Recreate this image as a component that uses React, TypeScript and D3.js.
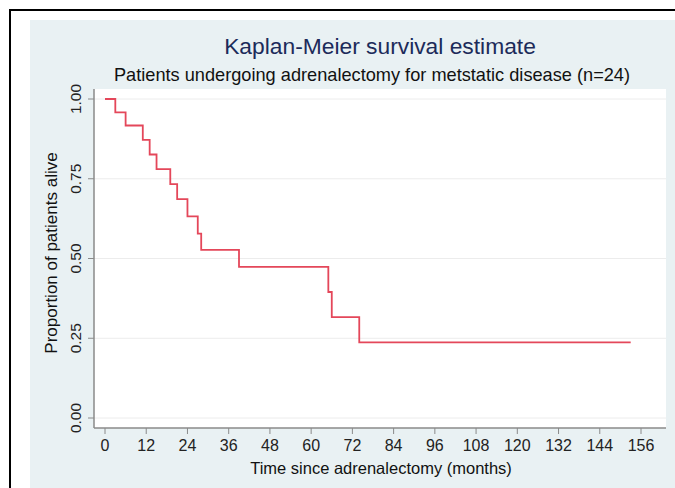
import React, { useEffect } from "react";
import { scaleLinear, line, curveStepAfter } from "d3";

// survival estimate: time (months) and proportion alive
const times = [0, 3, 6, 11, 13, 15, 19, 21, 24, 27, 28, 39, 65, 66, 74, 153];
const survival = [1.0, 0.958, 0.917, 0.872, 0.826, 0.78, 0.733, 0.686, 0.632, 0.578, 0.527, 0.474, 0.395, 0.316, 0.237, 0.237];

const xTicks = [0, 12, 24, 36, 48, 60, 72, 84, 96, 108, 120, 132, 144, 156];
const yTicks = [0, 0.25, 0.5, 0.75, 1];

const title = "Kaplan-Meier survival estimate";
const subtitle = "Patients undergoing adrenalectomy for metstatic disease (n=24)";
const xTitle = "Time since adrenalectomy (months)";
const yTitle = "Proportion of patients alive";

const App = () => {
  const width = 675;
  const height = 488;
  const font = "'Liberation Sans', Arial, Helvetica, sans-serif";

  useEffect(() => {
    document.body.style.margin = "0";
    document.body.style.overflow = "hidden";
  }, []);

  const plot = { left: 94, right: 666, top: 89, bottom: 428 };

  const x = scaleLinear().domain([0, 156]).range([105, 641]);
  const y = scaleLinear().domain([0, 1]).range([418, 99]);

  const pts = times.map((t, i) => [t, survival[i]] as [number, number]);
  const path = line<[number, number]>()
    .x((d) => x(d[0]))
    .y((d) => y(d[1]))
    .curve(curveStepAfter)(pts);

  return (
    <svg
      width={width}
      height={height}
      style={{ position: "absolute", left: 0, top: 0, background: "#fff", display: "block" }}
    >
      <rect x={10} y={10} width={720} height={620} fill="#fff" stroke="#000" strokeWidth={2} />
      <rect x={30} y={20} width={700} height={520} fill="#e9f1f3" />
      <rect
        x={plot.left}
        y={plot.top}
        width={plot.right - plot.left}
        height={plot.bottom - plot.top}
        fill="#fff"
      />

      {/* gridlines */}
      {yTicks.map((v) => (
        <line
          key={"g" + v}
          x1={plot.left}
          x2={plot.right}
          y1={y(v)}
          y2={y(v)}
          stroke="#ececec"
          strokeWidth={1}
        />
      ))}

      {/* axes */}
      <line x1={plot.left} x2={plot.left} y1={plot.top} y2={plot.bottom} stroke="#8a8a8a" strokeWidth={1.5} />
      <line x1={plot.left} x2={plot.right} y1={plot.bottom} y2={plot.bottom} stroke="#8a8a8a" strokeWidth={1.5} />

      {yTicks.map((v) => (
        <g key={"y" + v}>
          <line x1={plot.left - 6} x2={plot.left} y1={y(v)} y2={y(v)} stroke="#8a8a8a" />
          <text
            transform={`translate(81,${y(v)}) rotate(-90)`}
            textAnchor="middle"
            fontFamily={font}
            fontSize={15.5}
            fill="#222"
          >
            {v.toFixed(2)}
          </text>
        </g>
      ))}

      {xTicks.map((v) => (
        <g key={"x" + v}>
          <line x1={x(v)} x2={x(v)} y1={plot.bottom} y2={plot.bottom + 6} stroke="#8a8a8a" />
          <text x={x(v)} y={451} textAnchor="middle" fontFamily={font} fontSize={16} fill="#222">
            {v}
          </text>
        </g>
      ))}

      <path d={path ?? ""} fill="none" stroke="#e4475a" strokeWidth={1.8} />

      <text x={380} y={54} textAnchor="middle" fontFamily={font} fontSize={22.8} fill="#1c2b5a">
        {title}
      </text>
      <text x={372} y={81} textAnchor="middle" fontFamily={font} fontSize={18.2} fill="#111">
        {subtitle}
      </text>
      <text x={381} y={474} textAnchor="middle" fontFamily={font} fontSize={16.5} fill="#111">
        {xTitle}
      </text>
      <text
        transform={`translate(57,253) rotate(-90)`}
        textAnchor="middle"
        fontFamily={font}
        fontSize={17}
        fill="#111"
      >
        {yTitle}
      </text>
    </svg>
  );
};

export default App;
